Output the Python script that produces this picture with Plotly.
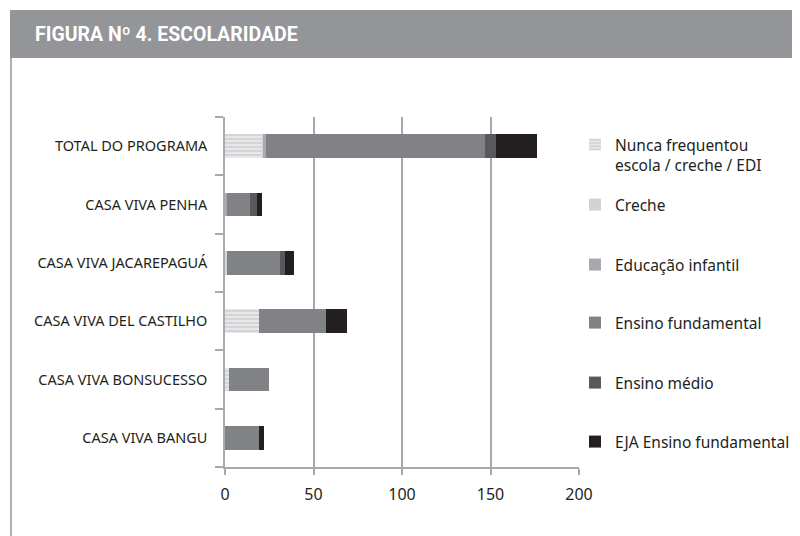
import plotly.graph_objects as go

# --- dados (de baixo para cima) ---
unidades = ['CASA VIVA BANGU', 'CASA VIVA BONSUCESSO', 'CASA VIVA DEL CASTILHO',
            'CASA VIVA JACAREPAGUÁ', 'CASA VIVA PENHA', 'TOTAL DO PROGRAMA']
nunca = [0, 2, 19, 0, 0, 21]
creche = [0, 0, 0, 1, 0, 1]
educ_infantil = [0, 0, 0, 0, 1, 1]
ens_fundamental = [19, 23, 38, 30, 13, 124]
ens_medio = [0, 0, 0, 3, 4, 6]
eja_fundamental = [3, 0, 12, 5, 3, 23]

series = [
    ('Nunca frequentou<br>escola / creche / EDI', nunca, '#e6e7e8'),
    ('Creche', creche, '#d1d3d4'),
    ('Educação infantil', educ_infantil, '#a7a9ac'),
    ('Ensino fundamental', ens_fundamental, '#808285'),
    ('Ensino médio', ens_medio, '#58595b'),
    ('EJA Ensino fundamental', eja_fundamental, '#231f20'),
]

FONT = 'Noto Sans'
TXT = '#231f20'
GRID = '#a7a9ac'

# a página tem margem de 8px: a figura fica 792x528 e tudo é deslocado
OFF = 8
L, T = 225 - OFF, 117 - OFF
W, H = 354, 350
FW, FH = 800 - OFF, 536 - OFF
R, B = FW - L - W, FH - T - H

# coordenadas de tela -> paper
def px(xs):
    return (xs - 225) / W

def py(ys):
    return (467 - ys) / H

# posição (tela) da primeira linha de cada item da legenda
leg_y = [145, 205, 265, 323, 383, 442]

fig = go.Figure()
for i, (nome, vals, cor) in enumerate(series):
    marker = dict(color=cor, line_width=0)
    if i == 0:
        # listrado horizontal
        marker['pattern'] = dict(shape='-', fgcolor='#bcbec0', bgcolor='#e6e7e8', size=4, solidity=0.45)
    lg = 'legend' if i == 0 else f'legend{i + 1}'
    fig.add_trace(go.Bar(y=unidades, x=vals, name=nome, orientation='h',
                         marker=marker, legend=lg, showlegend=True))

leg_common = dict(x=px(575), xanchor='left', yanchor='middle', font=dict(size=15.5, color=TXT),
                  itemwidth=30, bgcolor='rgba(0,0,0,0)', valign='top', visible=True)
legends = {}
for i, y in enumerate(leg_y):
    key = 'legend' if i == 0 else f'legend{i + 1}'
    d = dict(leg_common, y=py(y))
    if i == 0:
        d.update(y=py(y + 10))
    legends[key] = d

# faixa do título e borda esquerda
fig.add_shape(type='rect', xref='paper', yref='paper', x0=px(10), x1=px(800), y0=py(58), y1=py(10),
              fillcolor='#939598', line_width=0, layer='below')
fig.add_shape(type='line', xref='paper', yref='paper', x0=px(11), x1=px(11), y0=py(536), y1=py(58),
              line=dict(color='#939598', width=1.5))
fig.add_annotation(text='<b>FIGURA Nº 4. ESCOLARIDADE</b>', xref='paper', yref='paper',
                   x=px(33), y=py(34), xanchor='left', yanchor='middle', showarrow=False,
                   font=dict(family='Roboto, sans-serif', size=19.5, color='white'))

fig.update_layout(
    width=FW, height=FH,
    margin=dict(l=L, r=R, t=T, b=B, autoexpand=False),
    barmode='stack', bargap=0.59, showlegend=True,
    paper_bgcolor='white', plot_bgcolor='white',
    font=dict(family=FONT, size=13, color=TXT),
    **legends,
)
fig.update_xaxes(range=[0, 200], tickvals=[0, 50, 100, 150, 200], showgrid=True, gridcolor=GRID,
                 gridwidth=1.5, showline=True, linecolor=GRID, linewidth=1.5, ticks='outside',
                 tickcolor=GRID, ticklen=6, tickwidth=1.5, tickfont=dict(size=16, color=TXT),
                 ticklabelstandoff=6, zeroline=False)
fig.update_yaxes(categoryorder='array', categoryarray=unidades, showline=True, linecolor=GRID,
                 linewidth=1.5, ticks='outside', tickson='boundaries', tickcolor=GRID, ticklen=8,
                 tickwidth=1.5, tickfont=dict(size=14.5, color=TXT), ticklabelstandoff=13)

fig.write_html('out.html')
